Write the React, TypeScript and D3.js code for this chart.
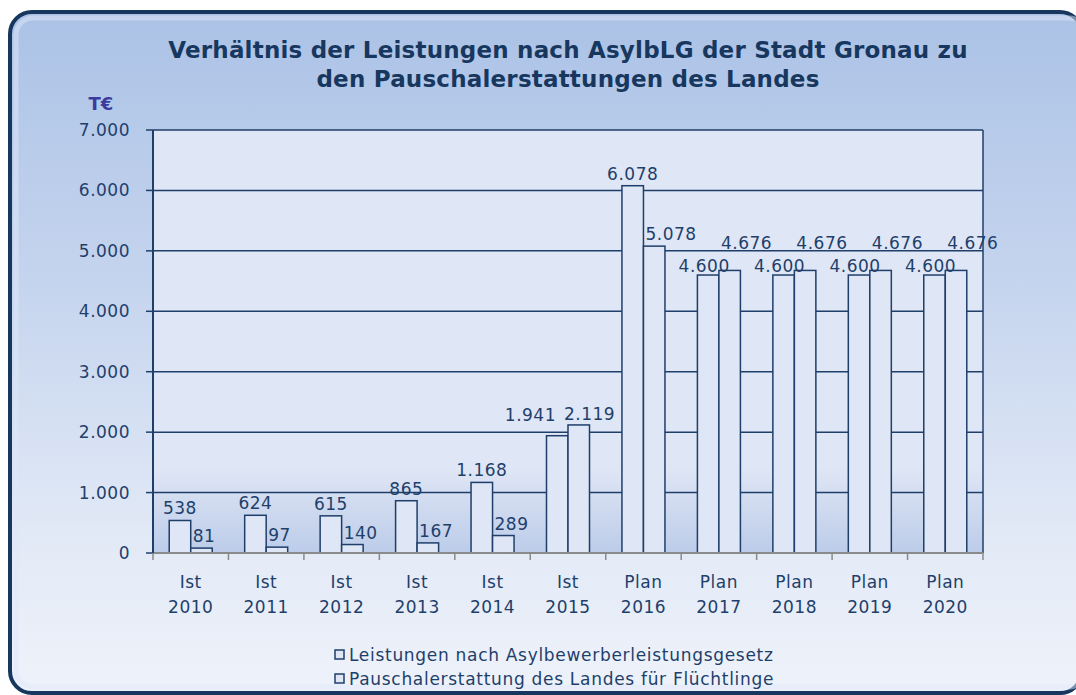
import React from 'react';
import * as d3 from 'd3';

// categories (two-line labels)
const periods = ['Ist', 'Ist', 'Ist', 'Ist', 'Ist', 'Ist', 'Plan', 'Plan', 'Plan', 'Plan', 'Plan'];
const years = ['2010', '2011', '2012', '2013', '2014', '2015', '2016', '2017', '2018', '2019', '2020'];

// values in T€
const leistungen = [538, 624, 615, 865, 1168, 1941, 6078, 4600, 4600, 4600, 4600];
const pauschale = [81, 97, 140, 167, 289, 2119, 5078, 4676, 4676, 4676, 4676];

const seriesNames = [
  'Leistungen nach Asylbewerberleistungsgesetz',
  'Pauschalerstattung des Landes für Flüchtlinge',
];
const yTicks = [0, 1000, 2000, 3000, 4000, 5000, 6000, 7000];

const W = 1076;
const H = 695;
const plot = { left: 153, right: 983, top: 130, bottom: 553 };
const navy = '#1f3f6b';
const font = 'DejaVu Sans, Verdana, sans-serif';

const de = d3.formatLocale({ decimal: ',', thousands: '.', grouping: [3], currency: ['', ' €'] });
const fmt = de.format(',d');

const textWidth = (s: string) => {
  // rough width of digits/dots at 17px
  let w = 0;
  for (const c of s) w += c === '.' ? 5.4 : 10.8;
  return w + (s.length - 1) * 0.5;
};

export default function App() {
  const x = d3.scaleBand<number>()
    .domain(years.map((_, i) => i))
    .range([plot.left, plot.right])
    .paddingInner(0.43)
    .paddingOuter(0.215);
  const xs = d3.scaleBand<number>().domain([0, 1]).range([0, x.bandwidth()]);
  const y = d3.scaleLinear().domain([0, 7000]).range([plot.bottom, plot.top]);
  const step = x.step();

  // data label placement, mimicking the spread-out labels of the original
  const labels: { x: number; y: number; anchor: string; text: string }[] = [];
  years.forEach((_, i) => {
    const v1 = leistungen[i];
    const v2 = pauschale[i];
    const bx1 = (x(i) as number) + (xs(0) as number);
    const bx2 = (x(i) as number) + (xs(1) as number);
    const t1 = fmt(v1);
    const t2 = fmt(v2);
    let l1 = { x: bx1 + xs.bandwidth() / 2, y: y(v1) - 6, anchor: 'middle', text: t1 };
    let l2 = { x: bx2 + 2, y: y(v2) - 6, anchor: 'start', text: t2 };
    const w1 = textWidth(t1);
    const overlapX = l1.x + w1 / 2 > l2.x;
    const overlapY = Math.abs(l1.y - l2.y) < 17;
    if (overlapX && overlapY) {
      if (Math.abs(v1 - v2) / Math.max(v1, v2) < 0.03) {
        l1 = { ...l1, x: l1.x - 4, y: l1.y + 3 };
        l2 = { ...l2, y: l1.y - 23 };
      } else {
        const b = Math.min(l1.y, l2.y);
        l2 = { ...l2, x: l2.x - 6, y: b + 1 };
        l1 = { ...l1, x: l2.x - 8, anchor: 'end', y: b + 2 };
      }
    }
    labels.push(l1, l2);
  });

  return (
    <svg width={W} height={H} style={{ position: 'absolute', left: 0, top: 0 }} fontFamily={font}>
      <defs>
        <linearGradient id="bg" x1="0" y1="0" x2="0" y2="1">
          <stop offset="0" stopColor="#abc2e6" />
          <stop offset="0.45" stopColor="#c9d7ef" />
          <stop offset="0.8" stopColor="#e4ebf7" />
          <stop offset="1" stopColor="#eef2fa" />
        </linearGradient>
        <linearGradient id="pa" x1="0" y1="0" x2="0" y2="1">
          <stop offset="0" stopColor="#dfe6f5" />
          <stop offset="0.8" stopColor="#dfe6f5" />
          <stop offset="1" stopColor="#bccce9" />
        </linearGradient>
      </defs>
      <rect x={10} y={12} width={1072} height={681} rx={22} fill="url(#bg)" stroke="#17375e" strokeWidth={4} />
      <rect x={16} y={18} width={1070} height={669} rx={17} fill="none" stroke="#dfe8f7" strokeOpacity={0.5} strokeWidth={5} />

      <text x={568} y={58} textAnchor="middle" fontWeight="bold" fontSize={23} letterSpacing={0.2} fill="#17375e">
        Verhältnis der Leistungen nach AsylbLG der Stadt Gronau zu
      </text>
      <text x={568} y={87} textAnchor="middle" fontWeight="bold" fontSize={23} letterSpacing={0.2} fill="#17375e">
        den Pauschalerstattungen des Landes
      </text>
      <text x={101} y={110} textAnchor="middle" fontWeight="bold" fontSize={18} fill="#3b3a9e">T€</text>

      <rect x={plot.left} y={plot.top} width={plot.right - plot.left} height={plot.bottom - plot.top} fill="url(#pa)" />

      {yTicks.map(t => (
        <g key={t}>
          {t > 0 && <line x1={plot.left} x2={plot.right} y1={y(t)} y2={y(t)} stroke={navy} strokeWidth={1.5} />}
          <line x1={plot.left - 7} x2={plot.left} y1={y(t)} y2={y(t)} stroke={navy} strokeWidth={1.5} />
          <text x={130} y={y(t) + 6} textAnchor="end" fontSize={17} letterSpacing={0.5} fill={navy}>{fmt(t)}</text>
        </g>
      ))}
      <line x1={plot.right} x2={plot.right} y1={plot.top} y2={plot.bottom} stroke={navy} strokeWidth={1.5} />

      {years.map((_, i) =>
        [leistungen[i], pauschale[i]].map((v, s) => (
          <rect
            key={`${i}-${s}`}
            x={(x(i) as number) + (xs(s) as number)}
            y={y(v)}
            width={xs.bandwidth()}
            height={plot.bottom - y(v)}
            fill="#dfe6f5"
            stroke={navy}
            strokeWidth={1.5}
          />
        ))
      )}

      <line x1={plot.left} x2={plot.right} y1={plot.bottom} y2={plot.bottom} stroke="#8a8a8a" strokeWidth={2} />
      <line x1={plot.left} x2={plot.left} y1={plot.top} y2={plot.bottom} stroke={navy} strokeWidth={2} />
      {d3.range(years.length + 1).map(i => (
        <line key={i} x1={plot.left + i * step} x2={plot.left + i * step} y1={plot.bottom} y2={plot.bottom + 7} stroke="#8a8a8a" strokeWidth={1.5} />
      ))}

      {years.map((yr, i) => {
        const cx = (x(i) as number) + x.bandwidth() / 2;
        return (
          <g key={yr} fontSize={17} letterSpacing={0.5} fill={navy} textAnchor="middle">
            <text x={cx} y={588}>{periods[i]}</text>
            <text x={cx} y={613}>{yr}</text>
          </g>
        );
      })}

      {labels.map((l, k) => (
        <text key={k} x={l.x} y={l.y} textAnchor={l.anchor} fontSize={17} letterSpacing={0.5} fill={navy}>{l.text}</text>
      ))}

      {seriesNames.map((n, k) => (
        <g key={n}>
          <rect x={335} y={650 + k * 24} width={9} height={9} fill="#dfe6f5" stroke={navy} strokeWidth={1.5} />
          <text x={349} y={661 + k * 24} fontSize={17} letterSpacing={0.7} fill={navy}>{n}</text>
        </g>
      ))}
    </svg>
  );
}
